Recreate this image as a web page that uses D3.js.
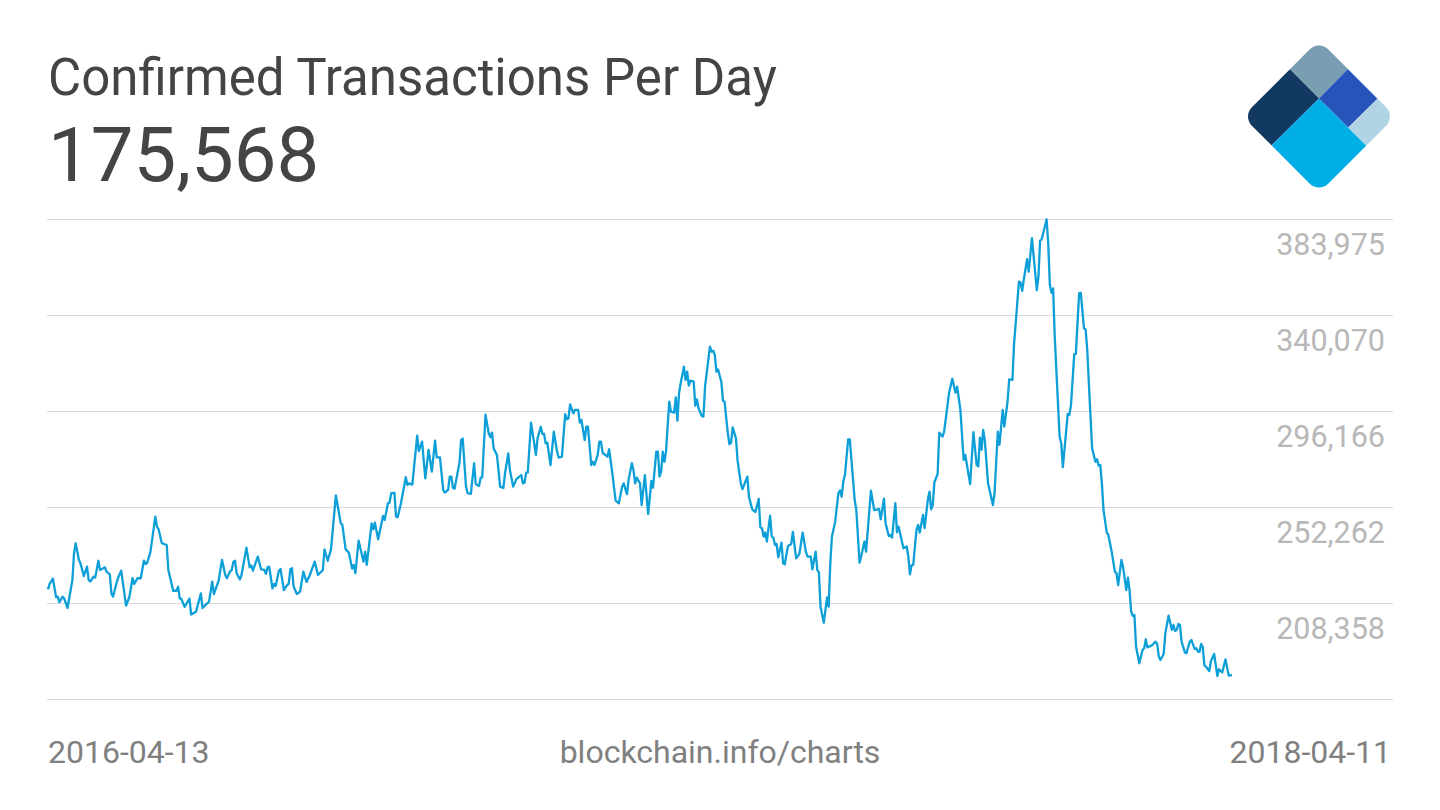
<!DOCTYPE html>
<html>
<head>
<meta charset="utf-8">
<script src="https://cdn.jsdelivr.net/npm/d3@7"></script>
<style>
html,body{margin:0;padding:0;background:#fff;overflow:hidden}
svg{display:block}
text{font-family:Roboto,sans-serif}
</style>
</head>
<body>
<svg id="chart" width="1440" height="810"></svg>
<script>
const chartTitle = "Confirmed Transactions Per Day";
const latestValue = "175,568";
const startDate = "2016-04-13";
const endDate = "2018-04-11";
const sourceLabel = "blockchain.info/charts";
const gridValues = [383975, 340070, 296166, 252262, 208358, 164454];
const labelledValues = [383975, 340070, 296166, 252262, 208358];

// days since 2016-04-13
const dayOffsets = [
0,1,3,5,6,7,9,10,12,15,16,17,19,20,22,24,25,26,28,29,31,32,35,36,38,39,40,42,43,45,48,50,52,53,55,57,59,60,61,63,66,67,68,70,73,74,76,77,79,80,81,82,84,87,88,91,94,95,99,101,102,105,107,109,110,112,113,114,115,116,118,119,122,124,125,126,129,131,133,134,135,136,138,139,140,142,143,145,147,148,149,150,151,153,155,157,159,161,164,166,169,170,172,174,175,177,180,181,183,185,187,188,189,191,194,195,196,199,200,201,203,206,207,209,210,211,213,214,215,217,220,221,222,224,227,228,230,232,234,236,238,239,241,243,244,246,247,248,249,250,253,254,255,257,258,260,262,263,265,266,267,269,271,272,273,274,276,277,278,280,281,283,284,286,288,291,292,293,294,295,297,300,301,303,304,305,306,307,309,311,313,314,316,318,319,320,321,323,324,326,327,328,330,331,332,334,335,336,338,339,340,341,344,345,347,349,351,353,354,356,357,359,360,361,362,364,365,367,369,371,372,374,375,376,377,378,379,380,382,383,385,386,387,388,389,391,392,393,394,395,397,398,399,400,402,403,404,407,408,409,410,411,412,414,415,416,418,419,420,421,423,424,426,427,430,431,433,435,437,438,439,440,441,442,444,445,446,447,448,449,451,452,453,455,457,458,460,462,464,466,467,469,470,472,473,474,475,477,479,480,481,482,484,486,487,488,489,490,492,493,496,497,499,500,502,503,506,508,511,512,514,515,517,518,519,521,522,523,526,528,529,530,531,532,534,535,536,538,539,541,542,543,544,545,547,548,550,551,554,556,558,559,561,563,564,567,569,571,572,573,574,575,576,578,581,582,584,585,587,588,590,591,593,594,595,597,598,599,600,602,603,605,608,609,610,611,614,615,616,617,618,619,622,623,624,627,628,629,631,632,634,635,637,638,639,641,642,644,645,646,647,648,649,651,652,654,656,657,658,660,661,663,664,665,666,667,668,669,671,673,674,675,676,678,679,681,682,683,684,686,687,689,691,692,693,694,695,696,697,699,700,702,703,705,706,707,708,709,710,711,712,714,715,717,719,720,722,724,726,728
];

// confirmed transactions per day, thousands
const txThousands = [
214.8,217.3,219.7,211.2,211.5,209.0,211.5,210.6,206.3,219.1,231.3,235.9,228.3,226.7,220.9,225.2,219.1,218.4,220.6,220.2,227.9,223.7,224.9,222.9,221.7,213.0,211.5,217.3,219.9,223.4,207.4,211.2,220.0,217.3,219.9,219.9,228.0,226.4,227.0,232.1,248.1,243.5,242.3,235.9,235.1,223.7,217.3,214.2,214.2,216.1,210.7,210.4,206.8,210.6,203.3,204.6,213.0,206.3,209.2,218.4,212.7,219.1,228.3,221.4,219.9,223.1,223.7,227.5,227.9,222.2,219.4,221.4,233.9,224.9,225.8,223.4,229.8,224.0,223.7,221.9,224.9,225.2,215.3,217.3,216.4,223.4,224.1,214.5,216.8,217.3,224.0,224.5,216.1,212.7,213.8,222.9,218.2,221.4,227.5,221.4,223.7,233.1,227.9,233.1,241.2,257.8,245.0,244.3,233.1,231.6,224.4,226.0,222.2,237.1,227.5,232.1,226.0,245.0,242.3,245.3,237.7,248.4,246.5,254.2,254.5,258.7,259.0,248.1,247.8,254.2,266.1,262.6,263.3,262.7,285.1,278.1,282.4,265.6,278.6,268.7,282.8,275.2,275.2,260.3,259.1,260.3,266.4,266.4,261.3,260.9,272.8,283.1,283.8,261.8,258.8,258.5,272.5,263.0,262.1,265.8,266.1,294.7,286.2,284.4,286.5,279.3,276.3,269.4,261.8,261.2,267.9,277.0,269.4,261.8,265.2,267.1,263.3,263.6,268.2,268.2,291.1,276.3,283.9,289.2,285.9,285.9,281.6,281.9,271.7,286.9,277.8,275.1,275.5,295.0,292.6,293.0,299.4,295.3,296.9,296.9,291.1,292.3,283.1,289.2,289.2,271.7,273.2,271.7,276.3,282.4,282.4,277.3,275.5,278.9,267.9,255.4,254.2,261.8,263.3,258.4,264.9,272.5,269.4,263.3,265.9,263.3,253.4,267.1,249.2,264.4,261.3,277.8,277.8,266.4,268.7,277.8,273.2,277.8,300.7,296.1,295.6,302.6,292.0,304.5,309.0,316.7,310.6,314.4,308.0,310.3,309.8,298.8,301.7,297.6,294.1,293.8,307.5,325.8,323.5,324.0,322.0,314.4,315.4,309.8,301.1,300.7,286.2,281.2,281.9,288.9,283.9,273.7,263.3,260.7,266.4,257.2,251.4,250.2,256.2,243.2,242.8,239.0,240.8,236.7,248.5,239.0,238.5,235.1,235.6,229.5,236.2,226.8,226.3,234.7,235.6,241.1,229.0,231.0,240.8,232.1,229.8,229.8,224.0,232.1,223.7,222.6,206.9,199.6,211.2,206.9,226.7,238.9,245.8,258.8,260.0,257.2,264.1,267.1,283.4,283.4,255.7,251.1,227.0,229.8,236.7,232.1,260.0,251.1,251.5,246.9,256.3,245.0,239.2,239.7,238.5,254.2,240.9,243.5,233.6,234.4,229.8,221.7,225.8,226.0,242.0,244.3,240.8,248.9,242.8,256.0,259.5,251.4,253.4,263.7,267.6,286.5,284.7,287.0,304.5,311.2,304.8,307.5,296.9,274.0,276.3,263.0,286.7,271.7,271.0,284.2,278.6,287.7,283.2,263.3,253.4,258.8,286.9,280.9,296.9,289.3,300.7,310.9,310.6,327.3,336.5,355.6,355.1,351.4,356.6,365.8,360.1,375.4,351.7,357.8,374.3,374.9,384.0,373.1,354.0,350.5,352.5,330.4,284.7,281.6,270.7,295.1,294.6,299.2,322.3,322.5,350.2,350.5,334.2,333.7,324.3,293.8,279.3,273.2,274.3,271.4,271.7,263.3,251.1,240.8,239.7,232.1,222.9,222.2,216.8,228.3,225.2,214.5,220.2,214.5,204.6,202.7,203.1,188.6,181.0,187.1,187.9,192.0,188.3,188.9,189.4,190.9,189.9,184.1,182.5,185.3,194.7,202.8,196.3,198.5,195.8,196.3,199.0,198.5,190.9,186.0,185.6,190.9,191.7,187.6,187.9,186.4,186.2,189.9,188.6,180.2,179.5,177.5,181.8,185.3,175.2,178.3,176.8,182.8,175.4,175.568
];

const svg = d3.select("#chart");
const parseDay = d3.utcParse("%Y-%m-%d");
const t0 = parseDay(startDate);

const x = d3.scaleUtc().domain([t0, parseDay(endDate)]).range([48, 1232]);
const y = d3.scaleLinear().domain([164454, 383975]).range([699.5, 219.5]);

// grid + value labels via axis
const yAxis = d3.axisLeft(y)
  .offset(0)
  .tickValues(gridValues)
  .tickSize(-1346)
  .tickPadding(0)
  .tickFormat(v => labelledValues.includes(v) ? d3.format(",")(v) : "");
const gAxis = svg.append("g").attr("transform", "translate(47,0)").call(yAxis);
gAxis.select(".domain").remove();
gAxis.selectAll(".tick line").attr("stroke", "#d9d9d9").attr("stroke-width", 1);
gAxis.selectAll(".tick text")
  .attr("x", 1338)
  .attr("y", 35.5)
  .attr("dy", 0)
  .attr("text-anchor", "end")
  .attr("fill", "#b8b8b8")
  .style("font-family", "Roboto,sans-serif")
  .style("font-size", "30.5px");

// series
const points = dayOffsets.map((d, i) => ({
  date: d3.utcDay.offset(t0, d),
  value: txThousands[i] * 1000
}));
const line = d3.line().x(d => x(d.date)).y(d => y(d.value));
svg.append("path")
  .datum(points)
  .attr("fill", "none")
  .attr("stroke", "#0d9fd8")
  .attr("stroke-width", 2.3)
  .attr("stroke-linejoin", "round")
  .attr("d", line);

// header
svg.append("text").attr("x", 48).attr("y", 95)
  .attr("font-size", 51).attr("fill", "#444444").text(chartTitle);
svg.append("text").attr("x", 48).attr("y", 181)
  .attr("font-size", 76).attr("fill", "#444444").text(latestValue);

// footer
svg.append("text").attr("x", 48).attr("y", 763)
  .attr("font-size", 32).attr("fill", "#808080").text(startDate);
svg.append("text").attr("x", 720).attr("y", 763).attr("text-anchor", "middle")
  .attr("font-size", 32).attr("fill", "#808080").text(sourceLabel);
svg.append("text").attr("x", 1391).attr("y", 763).attr("text-anchor", "end")
  .attr("font-size", 32).attr("fill", "#808080").text(endDate);

// logo
const defs = svg.append("defs");
defs.append("clipPath").attr("id", "logoClip").append("rect")
  .attr("x", -54).attr("y", -54).attr("width", 108).attr("height", 108)
  .attr("rx", 13).attr("ry", 13)
  .attr("transform", "translate(1319,116.5) rotate(45)");
const logo = svg.append("g").attr("clip-path", "url(#logoClip)");
const logoShapes = [
  {c: "#799eb2", p: [[1289.5,68.7],[1319,30],[1348,68.7],[1319,98.5]]},
  {c: "#123962", p: [[1289.5,68.7],[1319,98.5],[1271,146],[1230,116]]},
  {c: "#00aee6", p: [[1319,98.5],[1366.7,146],[1319,200],[1271,146]]},
  {c: "#2754ba", p: [[1319,98.5],[1348,68.7],[1377.7,98.5],[1348.3,127.5]]},
  {c: "#b1d4e5", p: [[1377.7,98.5],[1405,116],[1366.7,146],[1348.3,127.5]]}
];
logo.selectAll("polygon").data(logoShapes).join("polygon")
  .attr("fill", d => d.c)
  .attr("points", d => d.p.map(q => q.join(",")).join(" "));
</script>
</body>
</html>
